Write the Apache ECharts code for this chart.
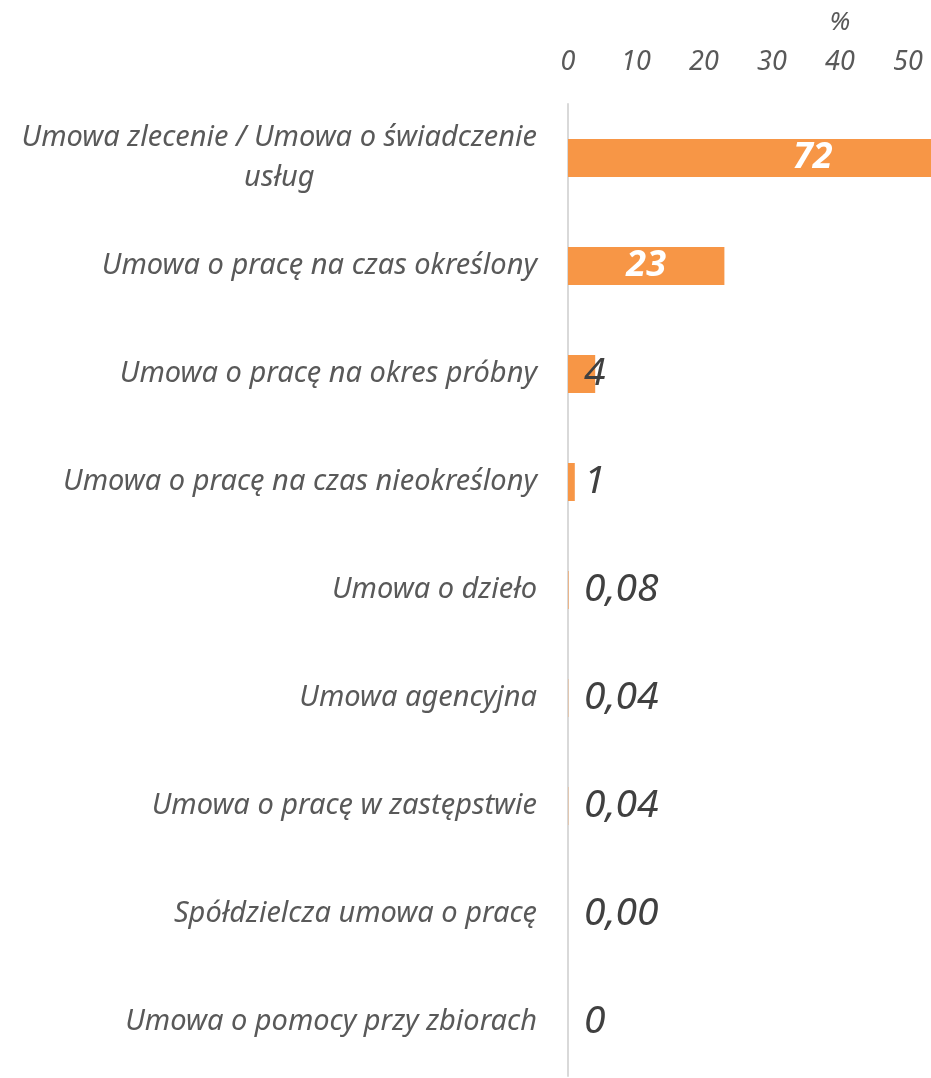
<!DOCTYPE html>
<html>
<head>
<meta charset="utf-8">
<script src="https://cdn.jsdelivr.net/npm/echarts@6/dist/echarts.min.js"></script>
<style>
  html, body { margin: 0; padding: 0; background: #fff; overflow: hidden; }
  /* the original axis runs on past the right edge of the picture, so the chart is wider than the window */
  #chart { width: 1112px; height: 1078px; }
</style>
</head>
<body>
<div id="chart"></div>
<script>
const categories = [
  'Umowa zlecenie / Umowa o świadczenie\nusług',
  'Umowa o pracę na czas określony',
  'Umowa o pracę na okres próbny',
  'Umowa o pracę na czas nieokreślony',
  'Umowa o dzieło',
  'Umowa agencyjna',
  'Umowa o pracę w zastępstwie',
  'Spółdzielcza umowa o pracę',
  'Umowa o pomocy przy zbiorach'
]
const values = [72, 23, 4, 1, 0.08, 0.04, 0.04, 0.0, 0]
const valueLabels = ['72', '23', '4', '1', '0,08', '0,04', '0,04', '0,00', '0']

const font = '"Noto Sans", "Open Sans", sans-serif'
const chart = echarts.init(document.getElementById('chart'))

const option = {
  animation: false,
  grid: { left: 568, right: 0, top: 104, bottom: 2, containLabel: false, outerBoundsMode: 'none' },
  xAxis: {
    type: 'value',
    position: 'top',
    min: 0,
    max: 80,
    interval: 10,
    name: '%',
    nameLocation: 'middle',
    nameGap: 68,
    nameTextStyle: { color: '#595959', fontSize: 26, fontStyle: 'italic', fontFamily: font },
    axisLine: { show: false },
    axisTick: { show: false },
    splitLine: { show: false },
    axisLabel: { color: '#595959', fontSize: 27, fontStyle: 'italic', fontFamily: font, margin: 28 }
  },
  yAxis: {
    type: 'category',
    inverse: true,
    data: categories,
    axisLine: { show: true, lineStyle: { color: '#d9d9d9', width: 2 } },
    axisTick: { show: false },
    axisLabel: {
      color: '#595959',
      fontSize: 29,
      fontStyle: 'italic',
      fontFamily: font,
      margin: 31,
      lineHeight: 40,
      formatter: (v) => v.split('\n').map((s) => '{c|' + s + '}').join('\n'),
      rich: { c: { align: 'center', fontSize: 29, fontStyle: 'italic', fontFamily: font, color: '#595959', lineHeight: 40 } }
    }
  },
  series: [
    {
      type: 'bar',
      barWidth: 38,
      itemStyle: { color: '#F79646' },
      data: values.map((v, i) => {
        const big = v > 10
        return {
          value: v,
          label: big
            ? { show: true, position: 'inside', color: '#fff', fontWeight: 'bold', fontStyle: 'italic', fontSize: 36, fontFamily: font, formatter: valueLabels[i] }
            : { show: true, position: [16, '50%'], align: 'left', verticalAlign: 'middle', color: '#404040', fontStyle: 'italic', fontSize: 39, fontFamily: font, formatter: valueLabels[i] }
        }
      })
    }
  ]
}

chart.setOption(option)
</script>
</body>
</html>
